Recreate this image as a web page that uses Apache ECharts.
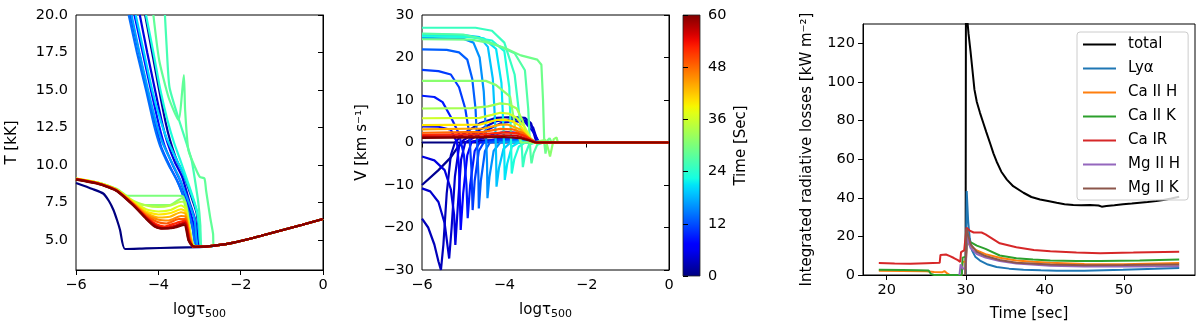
<!DOCTYPE html>
<html>
<head>
<meta charset="utf-8">
<script src="https://cdn.jsdelivr.net/npm/echarts@6/dist/echarts.min.js"></script>
<style>
  html, body { margin: 0; padding: 0; background: #fff; }
  #chart { width: 1200px; height: 327px; }
</style>
</head>
<body>
<div id="chart"></div>
<script>
// ---- left panel: temperature profiles, T [kK] vs log tau, one per time [s]
const tempTimes = [0, 2, 5, 8, 11, 14, 17, 20, 23, 26, 28, 30, 31, 34, 37, 40, 43, 46, 49, 52, 55, 58, 60];
const tempProfiles = [
  [[-6,8.8],[-5.6,8.4],[-5.34,8.1],[-5.2,7.6],[-5.09,7.0],[-5.0,6.3],[-4.93,5.67],[-4.81,4.4],[-4.3,4.44],[-3.6,4.49],[-3.0,4.53]],
  [[-4.32,20],[-4.15,17.5],[-3.98,15],[-3.82,12.8],[-3.72,11.7],[-3.55,10.3],[-3.39,9.4],[-3.2,7.9],[-3.07,6.8],[-2.99,5.0],[-2.98,4.55]],
  [[-4.45,20],[-4.27,17.5],[-4.08,15],[-3.9,12.7],[-3.78,11.5],[-3.6,10.2],[-3.42,9.2],[-3.25,7.6],[-3.1,6.3],[-3.02,4.8],[-3.0,4.55]],
  [[-4.58,20],[-4.38,17.5],[-4.18,15],[-3.98,12.6],[-3.85,11.3],[-3.65,10.0],[-3.46,8.9],[-3.28,7.4],[-3.13,5.9],[-3.05,4.6]],
  [[-4.68,20],[-4.47,17.5],[-4.27,15],[-4.05,12.5],[-3.93,11.2],[-3.7,9.8],[-3.5,8.7],[-3.3,7.2],[-3.15,5.6],[-3.07,4.55]],
  [[-4.72,20],[-4.52,17.5],[-4.3,15],[-4.1,12.6],[-3.96,11.3],[-3.75,10.0],[-3.55,9.0],[-3.35,7.6],[-3.18,6.0],[-3.08,4.55]],
  [[-4.65,20],[-4.46,17.5],[-4.25,15],[-4.05,12.8],[-3.9,11.5],[-3.68,10.2],[-3.5,9.2],[-3.3,7.8],[-3.12,6.4],[-3.04,4.6]],
  [[-4.55,20],[-4.35,17.5],[-4.15,15],[-3.95,13],[-3.8,11.8],[-3.6,10.6],[-3.42,9.6],[-3.22,8.2],[-3.05,6.8],[-2.97,4.6]],
  [[-4.3,20],[-4.12,17.5],[-3.95,15],[-3.78,13],[-3.62,11.5],[-3.45,10.2],[-3.3,9.0],[-3.12,7.5],[-3.0,6.0],[-2.95,4.6]],
  [[-3.84,20],[-3.8,18],[-3.73,15.2],[-3.52,13.2],[-3.31,11.4],[-3.19,10.3],[-3.11,9.0],[-3.03,7.5],[-2.98,6.0],[-2.96,4.6]],
  [[-4.12,20],[-3.98,17],[-3.75,14.5],[-3.51,13],[-3.38,16],[-3.35,13.7],[-3.27,11],[-3.1,9.8],[-2.99,9.2],[-2.88,9.1],[-2.84,8.3],[-2.74,6.5],[-2.67,5.4],[-2.66,4.6]],
  [[-6,9.05],[-5.5,8.85],[-5,8.4],[-4.75,7.95],[-4.57,7.95],[-4.0,7.95],[-3.5,7.95],[-3.4,7.9],[-3.3,7.0],[-3.2,5.0],[-3.12,4.58]],
  [[-6,9.05],[-5.5,8.85],[-5,8.35],[-4.65,7.6],[-4.4,7.35],[-3.72,7.33],[-3.55,7.6],[-3.42,7.8],[-3.3,6.6],[-3.2,4.9],[-3.12,4.58]],
  [[-6,9.1],[-5.5,8.85],[-5.2,8.6],[-5,8.35],[-4.6,7.6],[-4.3,7.3],[-4.0,7.2],[-3.7,7.3],[-3.45,7.55],[-3.35,7.5],[-3.25,6.0],[-3.17,4.7],[-3.1,4.55]],
  [[-6,9.1],[-5.5,8.85],[-5.2,8.58],[-5,8.33],[-4.6,7.55],[-4.3,7.05],[-4.0,6.9],[-3.7,7.0],[-3.45,7.3],[-3.34,7.1],[-3.24,5.6],[-3.17,4.65],[-3.1,4.55]],
  [[-6,9.1],[-5.5,8.83],[-5.2,8.57],[-5,8.32],[-4.6,7.5],[-4.3,6.9],[-4.0,6.7],[-3.7,6.8],[-3.45,7.05],[-3.34,6.9],[-3.24,5.5],[-3.17,4.6],[-3.1,4.55]],
  [[-6,9.08],[-5.5,8.82],[-5.2,8.56],[-5,8.31],[-4.6,7.45],[-4.3,6.8],[-4.0,6.5],[-3.72,6.55],[-3.45,6.85],[-3.34,6.75],[-3.24,5.4],[-3.17,4.6],[-3.1,4.55]],
  [[-6,9.08],[-5.5,8.81],[-5.2,8.55],[-5,8.3],[-4.6,7.4],[-4.3,6.7],[-4.0,6.35],[-3.75,6.3],[-3.45,6.6],[-3.34,6.55],[-3.24,5.3],[-3.17,4.6],[-3.1,4.55]],
  [[-6,9.07],[-5.5,8.8],[-5.2,8.54],[-5,8.29],[-4.6,7.38],[-4.3,6.6],[-4.02,6.2],[-3.8,6.1],[-3.5,6.4],[-3.34,6.4],[-3.25,5.2],[-3.17,4.6],[-3.1,4.55]],
  [[-6,9.06],[-5.5,8.8],[-5.2,8.53],[-5,8.28],[-4.6,7.35],[-4.3,6.55],[-4.05,6.05],[-3.85,5.9],[-3.55,6.15],[-3.35,6.3],[-3.25,5.1],[-3.17,4.6],[-3.1,4.55]],
  [[-6,9.05],[-5.5,8.79],[-5.2,8.52],[-5,8.27],[-4.6,7.32],[-4.3,6.5],[-4.05,5.95],[-3.88,5.8],[-3.6,5.95],[-3.35,6.2],[-3.25,5.0],[-3.17,4.6],[-3.1,4.55]],
  [[-6,9.04],[-5.5,8.78],[-5.2,8.51],[-5,8.26],[-4.6,7.3],[-4.3,6.45],[-4.08,5.9],[-3.9,5.75],[-3.62,5.85],[-3.36,6.1],[-3.26,4.95],[-3.17,4.6],[-3.1,4.55]],
  [[-6,9.03],[-5.5,8.77],[-5.2,8.5],[-5,8.25],[-4.6,7.28],[-4.3,6.42],[-4.1,5.92],[-3.92,5.78],[-3.65,5.8],[-3.37,6.0],[-3.27,5.0],[-3.17,4.6],[-3.1,4.55]]
];
// shared photospheric part below the transition
const tempTail = [[-3.1,4.55],[-2.8,4.57],[-2.5,4.67],[-2.2,4.81],[-2,4.93],[-1.5,5.28],[-1,5.65],[-0.5,6.02],[0,6.4]];

// ---- middle panel: velocity profiles, V [km/s] vs log tau
const velTimes = [0, 1, 3, 4, 5, 7, 9, 11, 13, 16, 19, 21, 23, 25, 27, 29, 31, 33, 36, 40, 44, 48, 52, 56, 60];
const velProfiles = [
  [[-6,0],[0,0]],
  [[-6,-10],[-5.6,-6.5],[-5.3,-3.5],[-5.16,-1.5],[-5.05,0],[-4.5,0.5],[-4,0.5],[-3.5,0.2],[-3.3,0],[0,0]],
  [[-6,-17.9],[-5.85,-20],[-5.7,-24],[-5.6,-28],[-5.54,-30],[-5.48,-24],[-5.4,-12],[-5.3,-3],[-5.2,0],[-5.0,2],[-4.6,4.5],[-4.2,5.8],[-3.8,6.0],[-3.5,5.8],[-3.35,4.5],[-3.25,1],[-3.2,0],[0,0]],
  [[-6,-10.8],[-5.8,-11.5],[-5.6,-14],[-5.45,-19],[-5.34,-27.3],[-5.28,-20],[-5.2,-8],[-5.1,-1],[-5.0,0.5],[-4.6,3],[-4.2,5],[-3.8,5.5],[-3.5,5.2],[-3.3,3.5],[-3.2,0.5],[-3.15,0],[0,0]],
  [[-6,-3.3],[-5.7,-4.2],[-5.45,-6.5],[-5.3,-11],[-5.22,-17],[-5.19,-24.1],[-5.13,-15],[-5.05,-4],[-4.95,0],[-4.5,2.5],[-4.1,4.5],[-3.8,5],[-3.5,4.8],[-3.3,2.5],[-3.15,0],[0,0]],
  [[-6,3.8],[-5.6,3.7],[-5.3,3],[-5.15,0],[-5.1,-6],[-5.06,-20.6],[-5.0,-12],[-4.9,-3],[-4.8,0],[-4.4,1.5],[-4,2.5],[-3.6,2.2],[-3.3,0.5],[-3.2,0],[0,0]],
  [[-6,11],[-5.7,10.7],[-5.5,9.5],[-5.3,6],[-5.1,2],[-4.98,-3],[-4.92,-10],[-4.89,-17.8],[-4.83,-10],[-4.72,-2],[-4.6,0],[-4.2,0.8],[-3.8,1.2],[-3.4,0.5],[-3.25,0],[0,0]],
  [[-6,17.1],[-5.6,16.8],[-5.3,16],[-5.1,13],[-4.95,8],[-4.85,2],[-4.8,-6],[-4.77,-15.9],[-4.72,-9],[-4.62,-2],[-4.5,0],[-4,0.8],[-3.5,0.4],[-3.3,0],[0,0]],
  [[-6,21.9],[-5.4,21.8],[-5.1,21.2],[-4.9,19.5],[-4.78,15],[-4.7,8],[-4.66,0],[-4.63,-8],[-4.62,-15.5],[-4.57,-9],[-4.47,-2],[-4.35,0],[-3.8,0.5],[-3.4,0.2],[-3.3,0],[0,0]],
  [[-6,24.6],[-5,24.4],[-4.75,23.5],[-4.6,20],[-4.5,12],[-4.45,3],[-4.42,-5],[-4.41,-13.1],[-4.36,-8],[-4.26,-2],[-4.1,0],[-3.6,0.4],[-3.3,0],[0,0]],
  [[-6,25.5],[-5,25.3],[-4.6,24.8],[-4.4,22.5],[-4.28,15],[-4.22,4],[-4.2,-3],[-4.19,-10.4],[-4.13,-6],[-4.02,-1.5],[-3.85,0],[-3.4,0.2],[-3.3,0],[0,0]],
  [[-6,25.3],[-5,25.1],[-4.5,24.5],[-4.2,22],[-4.07,14],[-4.02,3],[-4.0,-3],[-3.99,-8.8],[-3.93,-5],[-3.82,-1],[-3.65,0],[-3.3,0],[0,0]],
  [[-6,25.0],[-4.8,24.8],[-4.3,24],[-4.0,21.5],[-3.88,13],[-3.84,2],[-3.83,-3],[-3.82,-7.3],[-3.76,-4],[-3.65,-1],[-3.5,0],[-3.3,0],[0,0]],
  [[-6,27.0],[-4.7,27.0],[-4.3,26.3],[-4.0,23.5],[-3.75,16],[-3.62,5],[-3.57,-2],[-3.55,-5.8],[-3.5,-3],[-3.4,-0.5],[-3.25,0],[0,0]],
  [[-6,25.6],[-5,25.4],[-4.6,24.5],[-4.2,23],[-3.75,21],[-3.5,17],[-3.42,8],[-3.38,0],[-3.36,-3],[-3.34,-4.9],[-3.29,-2.5],[-3.2,-0.5],[-3.05,0],[0,0]],
  [[-6,24.3],[-4.8,24.2],[-4.4,23.5],[-4.0,22.3],[-3.6,20.5],[-3.2,19.5],[-3.1,18.3],[-3.06,10],[-3.03,0],[-3.0,-2.6],[-2.95,0.5],[-2.9,1],[-2.85,0],[0,0]],
  [[-6,14.5],[-4.45,14.5],[-4.2,13.5],[-3.86,10.8],[-3.74,3.7],[-3.6,0],[-3.3,0],[-3.0,0.6],[-2.92,-2],[-2.89,-3.3],[-2.8,0.8],[-2.73,1.2],[-2.7,0],[0,0]],
  [[-6,8.0],[-4.8,8.1],[-4.4,8.5],[-4.1,9.2],[-3.9,9.0],[-3.7,8.0],[-3.55,5.0],[-3.45,1.5],[-3.35,0],[0,0]],
  [[-6,5.7],[-4.6,5.8],[-4.3,6.5],[-4.1,7.0],[-3.9,6.8],[-3.7,5.8],[-3.5,3.5],[-3.35,0.8],[-3.25,0],[0,0]],
  [[-6,4.1],[-4.6,4.2],[-4.2,5.3],[-4.0,5.4],[-3.8,5.0],[-3.6,3.8],[-3.4,1.2],[-3.25,0],[0,0]],
  [[-6,3.1],[-4.5,3.3],[-4.1,4.2],[-3.9,4.2],[-3.6,3.0],[-3.4,1.0],[-3.25,0],[0,0]],
  [[-6,2.3],[-4.5,2.5],[-4.1,3.2],[-3.8,3.1],[-3.55,2.2],[-3.35,0.6],[-3.25,0],[0,0]],
  [[-6,1.8],[-4.5,2.0],[-4.0,2.4],[-3.7,2.2],[-3.5,1.5],[-3.3,0.3],[-3.2,0],[0,0]],
  [[-6,1.4],[-4.5,1.5],[-4.0,1.7],[-3.7,1.6],[-3.5,1.0],[-3.3,0.2],[-3.2,0],[0,0]],
  [[-6,1.1],[-4.5,1.2],[-4.0,1.3],[-3.6,1.0],[-3.4,0.5],[-3.25,0],[0,0]]
];

// ---- right panel: integrated radiative losses [kW m^-2] vs time [sec]
const lossNames = ['total', 'Ly\u03b1', 'Ca II H', 'Ca II K', 'Ca IR', 'Mg II H', 'Mg II K'];
const lossColors = ['#000000', '#1f77b4', '#ff7f0e', '#2ca02c', '#d62728', '#9467bd', '#8c564b'];
const lossTotal = [[29.98,0],[30.02,140],[30.2,140],[30.35,125],[30.6,116],[30.8,108],[31.1,96],[31.4,89.6],[31.8,84],[32.2,79],[32.6,74],[33.1,68],[33.5,63],[33.9,58.8],[34.5,53.5],[35.2,49.4],[36,46],[37.3,42.6],[38.3,40.4],[39.4,39.1],[40.4,38.3],[41.5,37.4],[42.5,36.7],[43.6,36.2],[44.6,36.1],[45.7,36.2],[46.8,36],[47.2,35.4],[47.8,35.7],[48.8,36.1],[49.9,36.6],[51,37],[52,37.4],[53,37.8],[54.1,38.3],[55,38.9],[56,39.6],[57,40.5]];
const lossLya = [[29.98,0],[30.12,43.5],[30.3,28],[30.5,19],[30.8,12.7],[31.2,9.5],[31.8,7.5],[32.8,5.4],[33.9,4.1],[35.5,3.3],[37.3,2.7],[39.5,2.4],[41.5,2.2],[45,2.2],[49.9,2.7],[54,3.2],[57,3.6]];
const lossCaH = [[19,2.2],[22,2.1],[25,2.0],[26,1.6],[27,1.4],[27.3,2.0],[27.6,1.0],[28,0],[29.5,0],[29.6,6.7],[30.0,7],[30.2,17],[30.6,15],[31.4,12.7],[32.5,10.8],[34.3,8.9],[36.4,7.5],[38.5,6.8],[40.7,6.3],[45,5.7],[50,5.6],[57,6.2]];
const lossCaK = [[19,2.7],[22,2.6],[24,2.5],[25.3,2.3],[25.6,0.5],[26,0],[29.5,0],[29.6,9],[30.0,9.5],[30.2,18],[30.6,17],[31.4,15.2],[32.5,13.5],[34.3,10.1],[36.4,8.7],[38.5,8],[40.7,7.5],[44,7.3],[47,7.2],[52,7.5],[57,8.0]];
const lossCaIR = [[19,6.2],[21,5.9],[23,5.8],[25,6.1],[26.7,6.3],[26.8,10.4],[27.5,10.6],[28,9.8],[28.5,8.8],[29,7.7],[29.3,6.8],[29.4,11.8],[29.8,12.8],[30.0,13],[30.1,24.5],[30.5,23],[31,22],[32,22],[32.5,21],[33.3,19],[34.3,16.4],[36.4,14.4],[38.6,13],[40.7,12.3],[44,11.6],[47,11.3],[51.2,11.6],[57,12.1]];
const lossMgH = [[29.2,0],[29.35,5.5],[29.6,3.5],[30.0,3],[30.15,20],[30.6,14],[31.4,10.9],[32.5,9],[34.3,7.3],[36.4,6],[40.7,4.8],[45,4.4],[50,4.4],[57,4.5]];
const lossMgK = [[29.95,0],[30.1,24],[30.6,16],[31.4,12],[32.5,9.8],[34.3,7.8],[36.4,6.4],[40.7,5.4],[45,5.1],[50,5.2],[57,5.5]];
const lossSeries = [lossTotal, lossLya, lossCaH, lossCaK, lossCaIR, lossMgH, lossMgK];

// tick labels
const tempTicks = [5, 7.5, 10, 12.5, 15, 17.5, 20];
const lossTicks = [0, 20, 40, 60, 80, 100, 120];
const timeTicks = [20, 30, 40, 50];

// matplotlib "jet" colormap
function seg(v, pts) {
  for (let i = 1; i < pts.length; i++) {
    if (v <= pts[i][0]) {
      const f = (v - pts[i - 1][0]) / (pts[i][0] - pts[i - 1][0]);
      return pts[i - 1][1] + f * (pts[i][1] - pts[i - 1][1]);
    }
  }
  return pts[pts.length - 1][1];
}
function jet(v) {
  const r = seg(v, [[0,0],[0.35,0],[0.66,1],[0.89,1],[1,0.5]]);
  const g = seg(v, [[0,0],[0.125,0],[0.375,1],[0.64,1],[0.91,0],[1,0]]);
  const b = seg(v, [[0,0.5],[0.11,1],[0.34,1],[0.65,0],[1,0]]);
  return 'rgb(' + Math.round(r * 255) + ',' + Math.round(g * 255) + ',' + Math.round(b * 255) + ')';
}
const jetStops = [];
for (let i = 0; i <= 40; i++) jetStops.push({ offset: i / 40, color: jet(i / 40) });

const FONT = 'DejaVu Sans';
const minus = v => String(v).replace('-', '\u2212');
const tick = { show: true, inside: false, length: 5, lineStyle: { color: '#000', width: 1 } };
const label = { color: '#000', fontFamily: FONT, fontSize: 14.5, margin: 8 };
const axLine = { show: true, lineStyle: { color: '#000', width: 1 } };
const nameStyle = { color: '#000', fontFamily: FONT, fontSize: 15 };
const tauName = {
  name: 'log\u03c4{s|500}', nameLocation: 'middle', nameGap: 30,
  nameTextStyle: Object.assign({ rich: { s: { fontFamily: FONT, fontSize: 11, color: '#000', padding: [9, 0, 0, 0] } } }, nameStyle)
};

function withTail(pts) {
  const last = pts[pts.length - 1][0];
  return pts.concat(tempTail.filter(p => p[0] > last));
}

const series = [];
tempProfiles.forEach((pts, i) => {
  series.push({
    type: 'line', xAxisIndex: 0, yAxisIndex: 0, data: withTail(pts),
    symbol: 'none', silent: true, smooth: 0.2,
    lineStyle: { width: 2.2, color: jet(tempTimes[i] / 60) }
  });
});
velProfiles.forEach((pts, i) => {
  series.push({
    type: 'line', xAxisIndex: 1, yAxisIndex: 1, data: pts,
    symbol: 'none', silent: true,
    lineStyle: { width: 2.2, color: jet(velTimes[i] / 60) }
  });
});
lossSeries.forEach((pts, i) => {
  series.push({
    name: lossNames[i], type: 'line', xAxisIndex: 3, yAxisIndex: 3, data: pts,
    symbol: 'none', silent: true, color: lossColors[i],
    lineStyle: { width: 2, color: lossColors[i] }
  });
});

const option = {
  animation: false,
  backgroundColor: '#fff',
  textStyle: { fontFamily: FONT },
  grid: [
    { left: 76, top: 15, width: 247, height: 255, show: true, borderColor: '#000', borderWidth: 1 },
    { left: 422, top: 15, width: 247, height: 255, show: true, borderColor: '#000', borderWidth: 1 },
    { left: 683, top: 15, width: 17, height: 261, show: true, borderColor: '#222', borderWidth: 0.8,
      backgroundColor: { type: 'linear', x: 0, y: 1, x2: 0, y2: 0, colorStops: jetStops } },
    { left: 863, top: 24, width: 332, height: 254, show: true, borderColor: '#000', borderWidth: 1 }
  ],
  xAxis: [
    Object.assign({ gridIndex: 0, type: 'value', min: -6, max: 0, interval: 2, splitLine: { show: false },
      axisLine: axLine, axisTick: tick, axisLabel: Object.assign({ formatter: minus }, label) }, tauName),
    Object.assign({ gridIndex: 1, type: 'value', min: -6, max: 0, interval: 2, splitLine: { show: false },
      axisLine: axLine, axisTick: tick, axisLabel: Object.assign({ formatter: minus }, label) }, tauName),
    { gridIndex: 2, type: 'value', show: false, min: 0, max: 1 },
    { gridIndex: 3, type: 'value', min: 17, max: 59, splitLine: { show: false },
      axisLine: axLine, axisTick: Object.assign({ customValues: timeTicks }, tick),
      axisLabel: Object.assign({ customValues: timeTicks }, label),
      name: 'Time [sec]', nameLocation: 'middle', nameGap: 32, nameTextStyle: nameStyle }
  ],
  yAxis: [
    { gridIndex: 0, type: 'value', min: 3, max: 20, splitLine: { show: false },
      axisLine: axLine, axisTick: Object.assign({ customValues: tempTicks }, tick),
      axisLabel: Object.assign({ customValues: tempTicks, formatter: v => v.toFixed(1) }, label),
      name: 'T [kK]', nameLocation: 'middle', nameGap: 56, nameTextStyle: nameStyle },
    { gridIndex: 1, type: 'value', min: -30, max: 30, interval: 10, splitLine: { show: false },
      axisLine: axLine, axisTick: tick, axisLabel: Object.assign({ formatter: minus }, label),
      name: 'V [km s\u207b\u00b9]', nameLocation: 'middle', nameGap: 52, nameTextStyle: nameStyle },
    { gridIndex: 2, type: 'value', position: 'right', min: 0, max: 60, interval: 12, splitLine: { show: false },
      axisLine: { show: false }, axisTick: tick, axisLabel: label,
      name: 'Time [Sec]', nameLocation: 'middle', nameGap: 34, nameRotate: 90, nameTextStyle: nameStyle },
    { gridIndex: 3, type: 'value', min: 0, max: 130, splitLine: { show: false },
      axisLine: axLine, axisTick: Object.assign({ customValues: lossTicks }, tick),
      axisLabel: Object.assign({ customValues: lossTicks }, label),
      name: 'Integrated radiative losses [kW m\u207b\u00b2]', nameLocation: 'middle', nameGap: 48, nameTextStyle: nameStyle }
  ],
  legend: {
    data: lossNames, orient: 'vertical', left: 1077, top: 32,
    padding: [5, 8, 4, 5], itemWidth: 33, itemHeight: 14, itemGap: 9,
    itemStyle: { opacity: 0 },
    backgroundColor: 'rgba(255,255,255,0.8)', borderColor: '#ccc', borderWidth: 1, borderRadius: 3,
    textStyle: { color: '#000', fontFamily: FONT, fontSize: 15, padding: [0, 0, 0, 7] }
  },
  series: series
};

const chart = echarts.init(document.getElementById('chart'), null, { renderer: 'canvas' });
chart.setOption(option);
</script>
</body>
</html>
